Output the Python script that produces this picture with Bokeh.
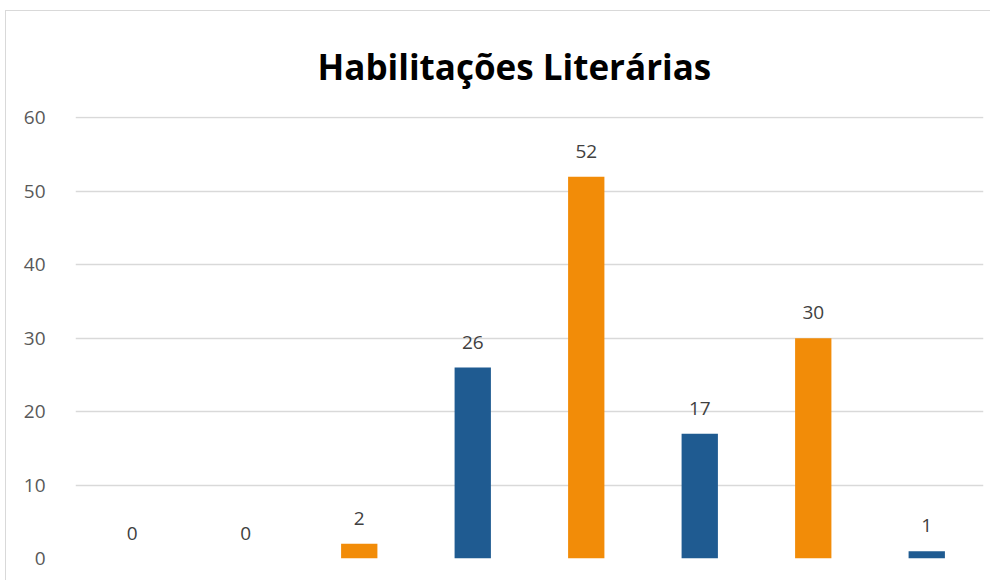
from bokeh.plotting import figure
from bokeh.models import ColumnDataSource, Title, SingleIntervalTicker, Range1d
from bokeh.core.properties import value
from bokeh.embed import file_html
from bokeh.resources import INLINE

categories = ["A", "B", "C", "D", "E", "F", "G", "H"]
values = [0, 0, 2, 26, 52, 17, 30, 1]
colors = ["#1F5B91", "#1F5B91", "#F28C08", "#1F5B91", "#F28C08", "#1F5B91", "#F28C08", "#1F5B91"]
labels = [str(v) for v in values]
title_text = "Habilitações Literárias"

src = ColumnDataSource(dict(cat=categories, val=values, color=colors, lab=labels))

p = figure(x_range=categories, y_range=Range1d(0, 60.2), width=985, height=570,
           output_backend="svg", toolbar_location=None,
           min_border_left=69, min_border_right=8, min_border_top=105, min_border_bottom=23)
p.styles = {"margin-top": "10px", "margin-left": "5px",
            "border-top": "1px solid #D9D9D9", "border-left": "1px solid #D9D9D9"}
p.outline_line_color = None
p.background_fill_color = "white"
p.border_fill_color = "white"

p.vbar(x="cat", top="val", width=0.32, fill_color="color", line_color=None, source=src)
p.text(x="cat", y="val", text="lab", source=src, text_align="center", text_baseline="bottom",
       y_offset=-19, text_font=value("Open Sans"), text_font_size="19px", text_color="#404040")

p.yaxis.ticker = SingleIntervalTicker(interval=10)
p.yaxis.axis_line_color = None
p.yaxis.major_tick_line_color = None
p.yaxis.minor_tick_line_color = None
p.yaxis.major_label_text_font = "Open Sans"
p.yaxis.major_label_text_font_size = "19px"
p.yaxis.major_label_text_color = "#595959"
p.yaxis.major_label_standoff = 24

p.xaxis.visible = False
p.xgrid.grid_line_color = None
p.ygrid.grid_line_color = "#D9D9D9"
p.ygrid.grid_line_width = 1.5

p.add_layout(Title(text=title_text, align="left", offset=242, standoff=50, vertical_align="top",
                   text_font="Open Sans", text_font_style="bold", text_font_size="35px",
                   text_color="#000000"), "above")

open("out.html", "w").write(file_html(p, INLINE))
